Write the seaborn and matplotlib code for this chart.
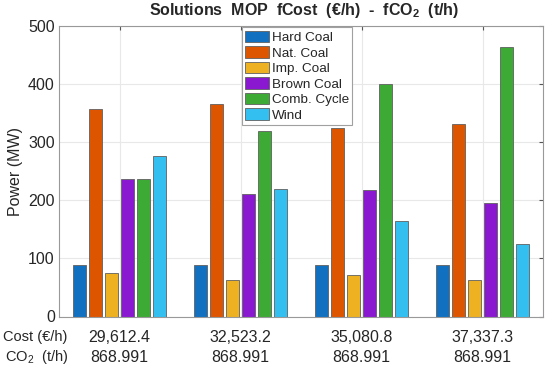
import numpy as np
import pandas as pd
import seaborn as sns
import matplotlib.pyplot as plt
from matplotlib import transforms

# power per source (MW) for each of the four MOP solutions
sources = ['Hard Coal', 'Nat. Coal', 'Imp. Coal', 'Brown Coal', 'Comb. Cycle', 'Wind']
solutions = ['S1', 'S2', 'S3', 'S4']
hard_coal = [88, 88, 88, 88]
nat_coal = [358, 365, 325, 332]
imp_coal = [75, 63, 72, 63]
brown_coal = [236, 211, 218, 196]
comb_cycle = [236, 320, 400, 464]
wind = [276, 219, 165, 125]
cost_labels = ['29,612.4', '32,523.2', '35,080.8', '37,337.3']
co2_labels = ['868.991', '868.991', '868.991', '868.991']
y_ticks = [0, 100, 200, 300, 400, 500]

colors = ['#1170BF', '#DE5500', '#EEB122', '#8A18D0', '#3DAA35', '#33BFEF']

series = [hard_coal, nat_coal, imp_coal, brown_coal, comb_cycle, wind]
df = pd.DataFrame([
    {'solution': sol, 'source': src, 'power': vals[i]}
    for src, vals in zip(sources, series)
    for i, sol in enumerate(solutions)
])

sns.set_style('white')
plt.rcParams['font.family'] = ['Liberation Sans', 'DejaVu Sans']
plt.rcParams['mathtext.fontset'] = 'custom'
plt.rcParams['mathtext.rm'] = 'Liberation Sans'
plt.rcParams['mathtext.default'] = 'regular'

fig, ax = plt.subplots(figsize=(5.5, 3.67), dpi=100)
fig.subplots_adjust(left=59/550, right=543/550, top=1-26/367, bottom=1-316.5/367)

sns.barplot(data=df, x='solution', y='power', hue='source', hue_order=sources,
            order=solutions, palette=colors, saturation=1, gap=0.2, width=0.8,
            edgecolor='#606060', linewidth=0.6, ax=ax)

ax.set_xlim(-0.5, 3.5)
ax.set_ylim(0, 500)
ax.set_yticks(y_ticks)
ax.set_xticks(range(len(solutions)))
ax.set_xticklabels([])
ax.set_xlabel('')
ax.set_ylabel('Power (MW)', fontsize=11.5, labelpad=4)
ax.tick_params(axis='y', labelsize=11.5, direction='in', length=3, color='#555555',
               right=True, pad=3)
ax.tick_params(axis='x', direction='in', length=3, color='#555555', top=True)
ax.grid(True, color='#e8e8e8', linewidth=0.8)
ax.set_axisbelow(True)
for sp in ax.spines.values():
    sp.set_visible(True)
    sp.set_color('#999999')
    sp.set_linewidth(0.8)

leg = ax.legend(loc='upper left', bbox_to_anchor=(0.378, 0.995), fontsize=9.7,
                frameon=True, fancybox=False, framealpha=1, edgecolor='#a0a0a0',
                handlelength=1.75, handleheight=0.9, labelspacing=0.17,
                handletextpad=0.2, borderpad=0.25, borderaxespad=0)
leg.get_frame().set_linewidth(0.8)

fig.text(304/550, 1-11/367, 'Solutions  MOP  fCost  (€/h)  -  fCO$_2$  (t/h)',
         ha='center', va='center', fontsize=11.5, fontweight='bold')

trans = transforms.blended_transform_factory(ax.transData, ax.transAxes)
for i in range(len(solutions)):
    ax.text(i, -0.072, cost_labels[i], transform=trans, ha='center', va='center', fontsize=11.5)
    ax.text(i, -0.141, co2_labels[i], transform=trans, ha='center', va='center', fontsize=11.5)
fig.text(3/550, 1-337/367, 'Cost (€/h)', ha='left', va='center', fontsize=10.5)
fig.text(5/550, 1-357/367, 'CO$_2$  (t/h)', ha='left', va='center', fontsize=10.5)

fig.savefig('out.png', dpi=100)
